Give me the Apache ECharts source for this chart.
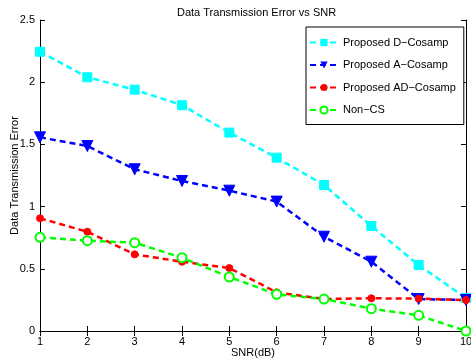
<!DOCTYPE html>
<html><head><meta charset="utf-8">
<script src="https://cdn.jsdelivr.net/npm/echarts@6/dist/echarts.min.js"></script>
<style>html,body{margin:0;padding:0;background:#fff}#c{width:471px;height:362px}</style>
</head><body><div id="c"></div>
<script>
const snr = [1,2,3,4,5,6,7,8,9,10];
const dCosamp = [2.245,2.04,1.94,1.815,1.595,1.393,1.174,0.844,0.53,0.265];
const aCosamp = [1.557,1.487,1.30,1.206,1.128,1.04,0.758,0.557,0.257,0.249];
const adCosamp = [0.906,0.798,0.616,0.557,0.506,0.311,0.257,0.263,0.26,0.249];
const nonCS = [0.753,0.726,0.71,0.589,0.434,0.295,0.257,0.179,0.126,0.0];
const names = ['Proposed D\u2212Cosamp','Proposed A\u2212Cosamp','Proposed AD\u2212Cosamp','Non\u2212CS'];
const yTicks = ['0','0.5','1','1.5','2','2.5'];

const F = 'Liberation Sans, Arial, Helvetica, sans-serif';
function pts(arr){ return snr.map((x,i)=>[x,arr[i]]); }
function mk(name, data, color, symbol, size, extra){
  return Object.assign({
    name, type:'line', data: pts(data), symbol, symbolSize:size,
    lineStyle:{color, width:2.5, type:[6,4]},
    itemStyle:{color, borderColor:color},
    emphasis:{disabled:true}, animation:false, z:3
  }, extra||{});
}
const chart = echarts.init(document.getElementById('c'));
chart.setOption({
  animation:false,
  title:{text:'Data Transmission Error vs SNR', left:172, top:2,
    textStyle:{fontFamily:F,fontSize:11,fontWeight:'normal',color:'#000'}},
  grid:{left:40, top:20, right:5, bottom:31, containLabel:false, outerBoundsMode:'none'},
  legend:{
    orient:'vertical', left:306, top:27, width:150,
    itemWidth:28, itemHeight:9, itemGap:11.5,
    padding:[10,8,9,3], borderColor:'#000', borderWidth:1, backgroundColor:'#fff',
    textStyle:{fontFamily:F,fontSize:11,color:'#000'},
    data:names
  },
  xAxis:[{type:'value', min:1, max:10, interval:1, position:'bottom',
    name:'SNR(dB)', nameLocation:'middle', nameGap:16, nameMoveOverlap:false,
    nameTextStyle:{fontFamily:F,fontSize:11,color:'#000'},
    axisLine:{lineStyle:{color:'#000',width:1}},
    axisTick:{inside:true,length:5,lineStyle:{color:'#000'}},
    axisLabel:{fontFamily:F,fontSize:11,color:'#000',margin:5},
    splitLine:{show:false}},
   {type:'value', min:1, max:10, interval:1, position:'top',
    axisLine:{lineStyle:{color:'#000',width:1}},
    axisTick:{inside:true,length:5,lineStyle:{color:'#000'}},
    axisLabel:{show:false}, splitLine:{show:false}}],
  yAxis:[{type:'value', min:0, max:2.5, interval:0.5, position:'left',
    name:'Data Transmission Error', nameLocation:'middle', nameGap:20, nameMoveOverlap:false,
    nameTextStyle:{fontFamily:F,fontSize:11,color:'#000'},
    axisLine:{show:true,lineStyle:{color:'#000',width:1}},
    axisTick:{show:true,inside:true,length:5,lineStyle:{color:'#000'}},
    axisLabel:{fontFamily:F,fontSize:11,color:'#000',margin:5,
      formatter:(v)=>yTicks[Math.round(v/0.5)]},
    splitLine:{show:false}},
   {type:'value', min:0, max:2.5, interval:0.5, position:'right',
    axisLine:{show:true,lineStyle:{color:'#000',width:1}},
    axisTick:{show:true,inside:true,length:5,lineStyle:{color:'#000'}},
    axisLabel:{show:false}, splitLine:{show:false}}],
  series:[
    mk(names[0], dCosamp, '#00ffff', 'rect', 9),
    mk(names[1], aCosamp, '#0000ff', 'triangle', 11, {symbolRotate:180}),
    mk(names[2], adCosamp, '#ff0000', 'circle', 7),
    mk(names[3], nonCS, '#00ff00', 'emptyCircle', 9, {itemStyle:{color:'#00ff00',borderColor:'#00ff00',borderWidth:2.5}})
  ]
});
</script></body></html>
